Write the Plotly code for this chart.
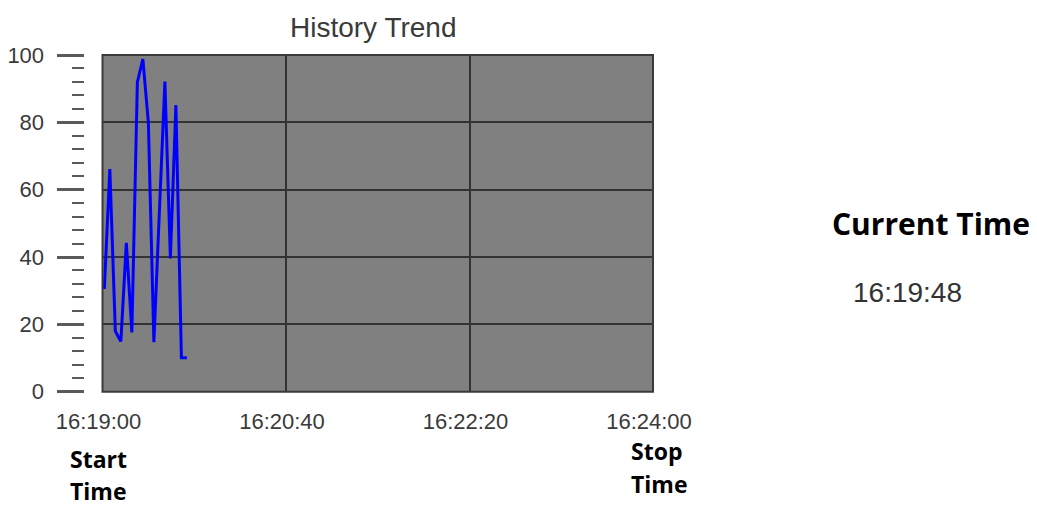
import plotly.graph_objects as go

# ---- data ----
times = ["16:19:01", "16:19:04", "16:19:07", "16:19:10", "16:19:13", "16:19:16",
         "16:19:19", "16:19:22", "16:19:25", "16:19:28", "16:19:34", "16:19:37",
         "16:19:40", "16:19:43", "16:19:46"]
values = [30.5, 66.1, 18.0, 14.9, 44.2, 17.6, 91.9, 98.8, 79.9, 14.7, 92.1, 39.6, 85.1, 10.1, 10.1]
tick_times = ["16:19:00", "16:20:40", "16:22:20", "16:24:00"]
start_time = "16:19:00"
stop_time = "16:24:00"
current_time = "16:19:48"
day = "2024-01-01 "

W, H = 1037, 506
def px(x):
    return x / W
def py(y):
    return 1 - y / H

fig = go.Figure()
fig.add_trace(go.Scatter(
    x=[day + t for t in times], y=values, mode="lines",
    line=dict(color="#0000ff", width=3), showlegend=False, hoverinfo="skip"))

fig.update_layout(
    width=W, height=H,
    margin=dict(l=0, r=0, t=0, b=0, pad=0, autoexpand=False),
    paper_bgcolor="white",
    plot_bgcolor="#808080",
    showlegend=False,
    xaxis=dict(
        type="date",
        domain=[px(102.5), px(653)],
        range=[day + start_time, day + stop_time],
        tickmode="array",
        tickvals=[day + t for t in tick_times],
        ticktext=tick_times,
        showgrid=True, gridcolor="#333333", gridwidth=1.5,
        zeroline=False, showline=False, ticks="",
        ticklabelstandoff=14, ticklabelshift=-4,
        tickfont=dict(family="Liberation Sans", size=22, color="#3a3a3a"),
        automargin=False,
        fixedrange=True,
    ),
    yaxis=dict(
        domain=[py(391.7), py(55)],
        range=[0, 100],
        anchor="free", position=px(83.5),
        tickmode="linear", tick0=0, dtick=20,
        ticks="outside", ticklen=27, tickwidth=3, tickcolor="#5a5a5a",
        minor=dict(dtick=4, tick0=0, ticks="outside", ticklen=12, tickwidth=2,
                   tickcolor="#5a5a5a", showgrid=False),
        showgrid=True, gridcolor="#333333", gridwidth=1.5,
        zeroline=False, showline=False,
        ticklabelstandoff=8,
        tickfont=dict(family="Liberation Sans", size=22, color="#3a3a3a"),
        automargin=False,
        fixedrange=True,
    ),
    shapes=[dict(type="rect", xref="x domain", yref="y domain",
                 x0=0, x1=1, y0=0, y1=1,
                 line=dict(color="#3a3a3a", width=2), layer="above")],
    annotations=[
        dict(text="History Trend", x=px(373), y=py(27), xref="paper", yref="paper",
             xanchor="center", yanchor="middle", showarrow=False,
             font=dict(family="Liberation Sans", size=28, color="#3a3a3a")),
        dict(text="<b>Current Time</b>", x=px(931), y=py(223), xref="paper", yref="paper",
             xanchor="center", yanchor="middle", showarrow=False,
             font=dict(family="Open Sans", size=30, color="#000000")),
        dict(text=current_time, x=px(907), y=py(292), xref="paper", yref="paper",
             xanchor="center", yanchor="middle", showarrow=False,
             font=dict(family="Liberation Sans", size=28, color="#333333")),
        dict(text="<b>Start</b>", x=px(68), y=py(459), xref="paper", yref="paper",
             xanchor="left", yanchor="middle", showarrow=False,
             font=dict(family="Open Sans", size=23, color="#000000")),
        dict(text="<b>Time</b>", x=px(68), y=py(491), xref="paper", yref="paper",
             xanchor="left", yanchor="middle", showarrow=False,
             font=dict(family="Open Sans", size=23, color="#000000")),
        dict(text="<b>Stop</b>", x=px(629), y=py(451), xref="paper", yref="paper",
             xanchor="left", yanchor="middle", showarrow=False,
             font=dict(family="Open Sans", size=23, color="#000000")),
        dict(text="<b>Time</b>", x=px(629), y=py(484), xref="paper", yref="paper",
             xanchor="left", yanchor="middle", showarrow=False,
             font=dict(family="Open Sans", size=23, color="#000000")),
    ],
)

fig.write_html("out.html", config={"displayModeBar": False},
               post_script="document.body.style.margin='0';document.body.style.overflow='hidden';")
